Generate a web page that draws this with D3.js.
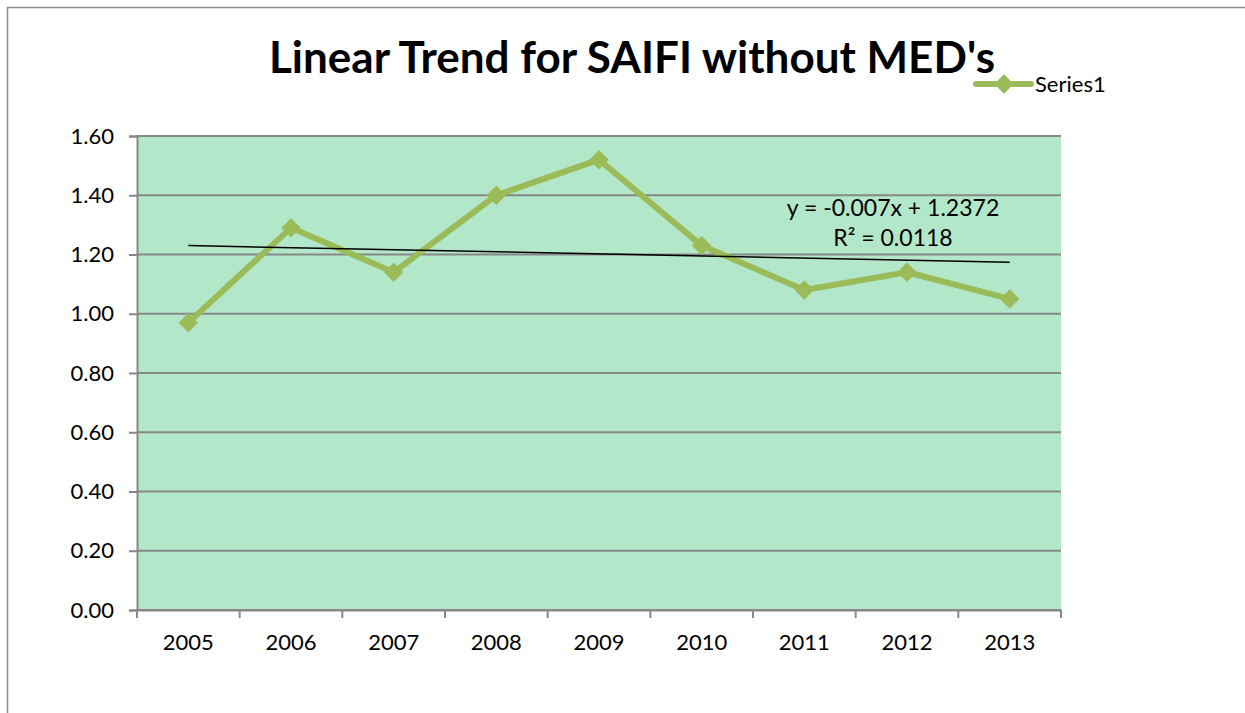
<!DOCTYPE html>
<html>
<head>
<meta charset="utf-8">
<script src="https://cdn.jsdelivr.net/npm/d3@7"></script>
<style>
body { margin:0; background:#fff; }
text { font-family: Lato, "Open Sans", sans-serif; fill:#000; }
</style>
</head>
<body>
<svg id="svgCanvas" width="1245" height="713"></svg>
<script>
var years = ["2005","2006","2007","2008","2009","2010","2011","2012","2013"];
var saifi = [0.97, 1.29, 1.14, 1.40, 1.52, 1.23, 1.08, 1.14, 1.05];
var yTicks = [0, 0.2, 0.4, 0.6, 0.8, 1.0, 1.2, 1.4, 1.6];
var trendSlope = -0.007;
var trendIntercept = 1.2372;
var trendR2 = 0.0118;

var canvas = d3.select("#svgCanvas");

var plotLeft = 137, plotRight = 1061, plotTop = 136, plotBottom = 610;

// outer chart border (runs off the picture)
canvas.append("rect")
    .attr("x", 7.5).attr("y", 7.5)
    .attr("width", 1260).attr("height", 720)
    .attr("fill", "none")
    .attr("stroke", "#8c8c8c")
    .attr("stroke-width", 1.5);

var x = d3.scaleBand().domain(years).range([plotLeft, plotRight]);
var y = d3.scaleLinear().domain([0, 1.6]).range([plotBottom, plotTop]);

// plot area
canvas.append("rect")
    .attr("x", plotLeft).attr("y", plotTop)
    .attr("width", plotRight - plotLeft).attr("height", plotBottom - plotTop)
    .attr("fill", "#b2e7c9");

// gridlines
canvas.selectAll(".grid").data(yTicks).enter().append("line")
    .attr("class", "grid")
    .attr("x1", plotLeft).attr("x2", plotRight)
    .attr("y1", function(d){ return y(d); })
    .attr("y2", function(d){ return y(d); })
    .attr("stroke", "#878787")
    .attr("stroke-width", 2);

// y axis
var yAxis = canvas.append("g")
    .attr("transform", "translate(" + plotLeft + ",0)")
    .call(d3.axisLeft(y).tickValues(yTicks).tickFormat(d3.format(".2f")).tickSize(8).tickPadding(15));
yAxis.selectAll("text").attr("font-size", 22);

// x axis
var xAxis = canvas.append("g")
    .attr("transform", "translate(0," + plotBottom + ")")
    .call(d3.axisBottom(x).tickSize(0).tickPadding(24));
xAxis.selectAll("text").attr("font-size", 22);
// category boundary ticks
var bounds = years.map(function(d){ return x(d); }).concat([plotRight]);
xAxis.selectAll(".bound").data(bounds).enter().append("line")
    .attr("class", "bound")
    .attr("x1", function(d){ return d; }).attr("x2", function(d){ return d; })
    .attr("y1", 0).attr("y2", 8)
    .attr("stroke", "#878787").attr("stroke-width", 2);

canvas.selectAll(".domain").attr("stroke", "#878787").attr("stroke-width", 2);
canvas.selectAll(".tick line").attr("stroke", "#878787").attr("stroke-width", 2);

function cx(d, i){ return x(years[i]) + x.bandwidth()/2; }

// data line
canvas.append("path")
    .datum(saifi)
    .attr("d", d3.line().x(cx).y(function(d){ return y(d); }))
    .attr("fill", "none")
    .attr("stroke", "#9bbb59")
    .attr("stroke-width", 6)
    .attr("stroke-linejoin", "round");

// markers
var diamond = d3.symbol().type(d3.symbolDiamond2).size(240);
canvas.selectAll(".marker").data(saifi).enter().append("path")
    .attr("class", "marker")
    .attr("transform", function(d, i){ return "translate(" + cx(d, i) + "," + y(d) + ")"; })
    .attr("d", diamond)
    .attr("fill", "#9bbb59");

// linear trend
var trend = years.map(function(d, i){ return trendSlope * (i + 1) + trendIntercept; });
canvas.append("line")
    .attr("x1", cx(0, 0)).attr("y1", y(trend[0]))
    .attr("x2", cx(0, years.length - 1)).attr("y2", y(trend[years.length - 1]))
    .attr("stroke", "#000")
    .attr("stroke-width", 1.5);

canvas.append("text")
    .attr("x", 893).attr("y", 216)
    .attr("text-anchor", "middle")
    .attr("font-size", 23)
    .text("y = " + trendSlope.toFixed(3) + "x + " + trendIntercept);
canvas.append("text")
    .attr("x", 893).attr("y", 246)
    .attr("text-anchor", "middle")
    .attr("font-size", 23)
    .text("R² = " + trendR2);

// title
canvas.append("text")
    .attr("x", 632).attr("y", 73)
    .attr("text-anchor", "middle")
    .attr("font-size", 44)
    .attr("font-weight", "bold")
    .text("Linear Trend for SAIFI without MED's");

// legend
var lg = canvas.append("g").attr("transform", "translate(976,84)");
lg.append("line")
    .attr("x1", 0).attr("x2", 55).attr("y1", 0).attr("y2", 0)
    .attr("stroke", "#9bbb59").attr("stroke-width", 6)
    .attr("stroke-linecap", "round");
lg.append("path")
    .attr("transform", "translate(28,0)")
    .attr("d", diamond)
    .attr("fill", "#9bbb59");
lg.append("text")
    .attr("x", 59).attr("y", 8)
    .attr("font-size", 22)
    .text("Series1");
</script>
</body>
</html>
